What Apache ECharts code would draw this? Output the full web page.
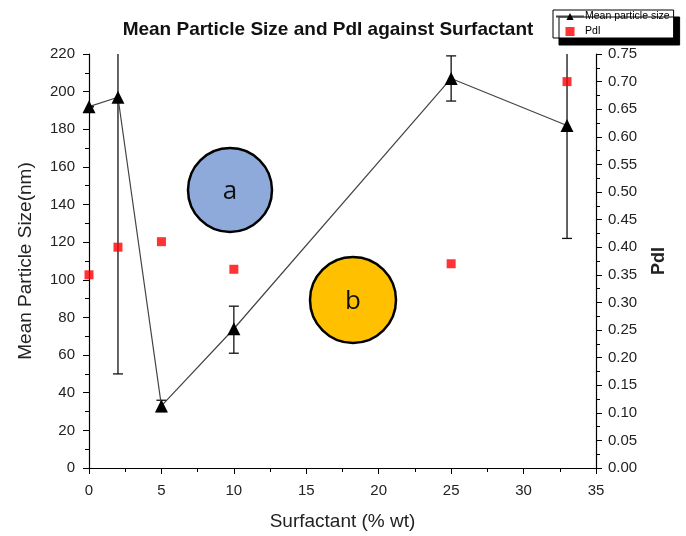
<!DOCTYPE html>
<html><head><meta charset="utf-8">
<script src="https://cdn.jsdelivr.net/npm/echarts@6/dist/echarts.min.js"></script>
<style>html,body{margin:0;padding:0;background:#fff}#c{width:686px;height:536px}</style>
</head><body><div id="c"></div>
<script>
const surfactant = [0, 2, 5, 10, 25, 33];
const meanSize   = [192, 197, 33, 74, 207, 182];
const sizeLow    = [192, 50, 30, 61, 195, 122];
const sizeHigh   = [192, 344, 36, 86, 219, 242];
const pdi        = [0.35, 0.40, 0.41, 0.36, 0.37, 0.70];
const xTicks = [0, 5, 10, 15, 20, 25, 30, 35];

const FONT = '"Liberation Sans", Arial, sans-serif';
const chart = echarts.init(document.getElementById('c'));
const gridL = 89, gridR = 90, gridT = 54, gridB = 65;

chart.setOption({
  animation: false,
  backgroundColor: '#fff',
  title: {
    text: 'Mean Particle Size and PdI against Surfactant',
    left: 323, top: 15, textAlign: 'center',
    textStyle: {fontFamily: FONT, fontSize: 19, fontWeight: 'bold', color: '#111'}
  },
  legend: {
    data: ['Mean particle size', {name: 'PdI', icon: 'path://M0,0h10v10h-10z'}],
    orient: 'vertical', left: 553, top: 10,
    padding: [1, 4, 1, 2], itemGap: 4, itemWidth: 28, itemHeight: 9,
    backgroundColor: '#fff', borderColor: '#000', borderWidth: 1,
    shadowColor: '#000', shadowBlur: 0, shadowOffsetX: 6, shadowOffsetY: 7,
    textStyle: {fontFamily: FONT, fontSize: 10.5, color: '#000', padding: [0, 0, 0, -4]}
  },
  grid: {left: gridL, right: gridR, top: gridT, bottom: gridB},
  xAxis: {
    type: 'value', min: 0, max: 35, interval: 5,
    name: 'Surfactant (% wt)', nameLocation: 'middle', nameGap: 44,
    nameTextStyle: {fontFamily: FONT, fontSize: 19, color: '#222'},
    axisLine: {show: true, lineStyle: {color: '#000', width: 1.2}},
    axisTick: {show: true, length: 6, lineStyle: {color: '#000'}},
    minorTick: {show: true, splitNumber: 2, length: 4, lineStyle: {color: '#000'}},
    axisLabel: {fontFamily: FONT, fontSize: 15, color: '#222', margin: 15,
      formatter: v => xTicks.includes(v) ? String(v) : ''},
    splitLine: {show: false}
  },
  yAxis: [{
    type: 'value', min: 0, max: 220, interval: 20, position: 'left',
    name: 'Mean Particle Size(nm)', nameLocation: 'middle', nameGap: 54, nameRotate: 90,
    nameTextStyle: {fontFamily: FONT, fontSize: 19, color: '#222'},
    axisLine: {show: true, lineStyle: {color: '#000', width: 1.2}},
    axisTick: {show: true, length: 6, lineStyle: {color: '#000'}},
    minorTick: {show: true, splitNumber: 2, length: 4, lineStyle: {color: '#000'}},
    axisLabel: {fontFamily: FONT, fontSize: 15, color: '#222', margin: 14},
    splitLine: {show: false}
  }, {
    type: 'value', min: 0, max: 0.75, interval: 0.05, position: 'right',
    name: 'PdI', nameLocation: 'middle', nameGap: 54, nameRotate: 90,
    nameTextStyle: {fontFamily: FONT, fontSize: 18, color: '#222', fontWeight: 'bold'},
    axisLine: {show: true, lineStyle: {color: '#000', width: 1.2}},
    axisTick: {show: true, length: 6, lineStyle: {color: '#000'}},
    minorTick: {show: true, splitNumber: 2, length: 4, lineStyle: {color: '#000'}},
    axisLabel: {fontFamily: FONT, fontSize: 15, color: '#222', margin: 12,
      formatter: v => v.toFixed(2)},
    splitLine: {show: false}
  }],
  series: [{
    name: 'errbars', type: 'custom', yAxisIndex: 0, clip: true, z: 3,
    data: surfactant.map((x, i) => [x, sizeLow[i], sizeHigh[i]]),
    renderItem: function (params, api) {
      const x = api.value(0);
      const lo = api.coord([x, api.value(1)]);
      const hi = api.coord([x, api.value(2)]);
      const cw = 5;
      const st = {stroke: '#111', lineWidth: 1.3};
      return {type: 'group', children: [
        {type: 'line', shape: {x1: lo[0], y1: lo[1], x2: hi[0], y2: hi[1]}, style: st},
        {type: 'line', shape: {x1: lo[0] - cw, y1: lo[1], x2: lo[0] + cw, y2: lo[1]}, style: st},
        {type: 'line', shape: {x1: hi[0] - cw, y1: hi[1], x2: hi[0] + cw, y2: hi[1]}, style: st}
      ]};
    }
  }, {
    name: 'Mean particle size', type: 'line', yAxisIndex: 0,
    data: surfactant.map((x, i) => [x, meanSize[i]]),
    symbol: 'triangle', symbolSize: 13, z: 4,
    lineStyle: {color: '#444', width: 1.2},
    itemStyle: {color: '#000'}
  }, {
    name: 'PdI', type: 'scatter', yAxisIndex: 1,
    data: surfactant.map((x, i) => [x, pdi[i]]),
    symbol: 'rect', symbolSize: 9, z: 5,
    itemStyle: {color: '#ff0000'}
  }],
  graphic: [
    {type: 'circle', shape: {cx: 230, cy: 190, r: 42}, z: 1,
     style: {fill: '#8eaadb', stroke: '#000', lineWidth: 2.5}},
    {type: 'text', x: 230, y: 192, z: 2,
     style: {text: 'a', fontFamily: '"Open Sans", sans-serif', fontSize: 26, fill: '#111', align: 'center', verticalAlign: 'middle'}},
    {type: 'circle', shape: {cx: 353, cy: 300, r: 43}, z: 1,
     style: {fill: '#ffc000', stroke: '#000', lineWidth: 2.5}},
    {type: 'text', x: 353, y: 302, z: 2,
     style: {text: 'b', fontFamily: '"Open Sans", sans-serif', fontSize: 26, fill: '#111', align: 'center', verticalAlign: 'middle'}}
  ]
});
</script>
</body></html>
